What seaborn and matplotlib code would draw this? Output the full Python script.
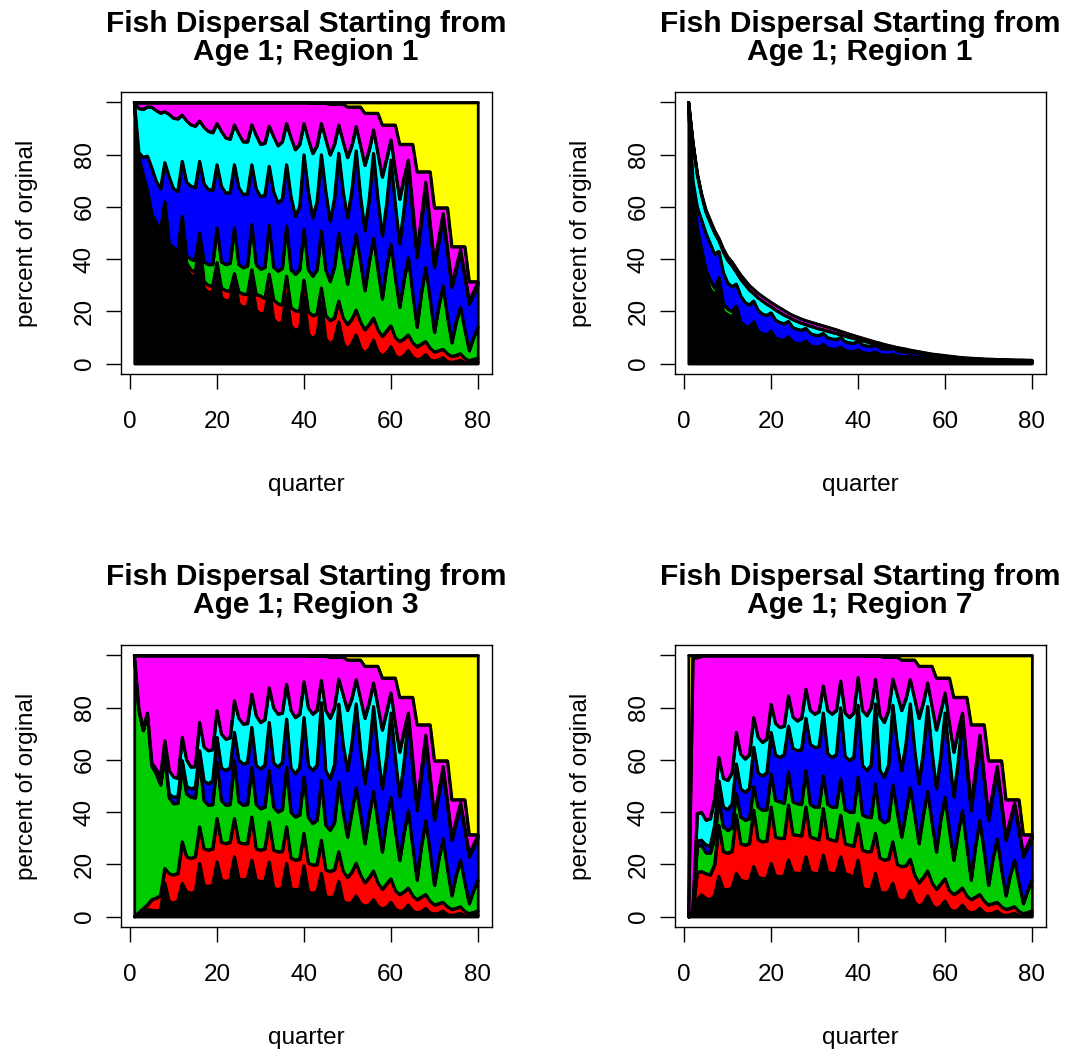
import numpy as np
import pandas as pd
import matplotlib
matplotlib.use("Agg")
import matplotlib.pyplot as plt
import seaborn as sns

# ==========================================
# Data: upper edge of each stacked band (percent of original)
# bands from bottom: black, red, green, blue, cyan, magenta, yellow
# ==========================================

quarters = list(range(1, 81))
ceiling = [100] * 80

# ---- Panel 1: Age 1; Region 1 ----
p1_black = [
    100, 79.0, 72.0, 66.0, 57.0, 53.0, 50.0, 60.0, 44.0, 42.0, 40.0, 54.0, 36.0, 34.0, 33.0, 42.0,
    29.0, 27.3, 27.5, 37.0, 25.5, 24.0, 24.5, 33.6, 23.0, 21.6, 22.0, 31.7, 20.5, 19.0, 19.5, 29.0,
    17.0, 15.2, 16.0, 26.7, 14.5, 12.7, 13.5, 25.4, 11.5, 9.5, 11.0, 23.5, 9.5, 7.6, 9.0, 16.0,
    8.0, 5.5, 7.5, 11.0, 6.0, 4.0, 5.5, 9.0, 4.5, 3.0, 4.0, 6.5, 3.0, 2.0, 3.0, 5.0,
    2.5, 1.5, 2.0, 3.5, 1.5, 1.0, 1.5, 2.3, 0.8, 0.5, 0.8, 1.3, 0.4, 0.2, 0.4, 0.7]
p1_red = [
    100, 79.1, 72.2, 66.2, 57.2, 53.3, 50.3, 60.5, 45.0, 43.0, 41.5, 56.0, 38.5, 36.0, 35.0, 47.0,
    31.5, 30.0, 29.8, 38.7, 29.0, 28.0, 27.9, 34.5, 27.5, 26.7, 26.5, 36.0, 26.5, 26.0, 25.0, 34.3,
    24.5, 23.0, 22.5, 33.5, 21.5, 20.3, 20.0, 32.0, 20.0, 18.4, 19.0, 29.0, 18.5, 16.5, 17.5, 24.0,
    17.5, 15.0, 17.0, 20.5, 16.0, 13.0, 15.0, 17.5, 13.0, 10.5, 12.5, 14.5, 10.0, 8.5, 9.5, 11.0,
    8.0, 6.5, 7.5, 8.5, 6.0, 4.5, 5.0, 5.5, 3.8, 2.8, 3.2, 3.8, 2.0, 1.2, 1.6, 2.2]
p1_green = [
    100, 79.3, 72.5, 66.5, 57.5, 54.0, 51.0, 62.0, 46.0, 44.5, 43.0, 56.5, 41.5, 40.0, 39.5, 50.0,
    39.0, 38.0, 38.0, 52.0, 39.0, 38.0, 38.5, 52.0, 38.0, 36.8, 37.5, 53.3, 38.0, 36.2, 37.0, 53.0,
    37.0, 35.5, 36.5, 52.7, 36.0, 34.3, 36.0, 51.4, 36.0, 33.5, 36.0, 50.8, 36.0, 31.5, 37.0, 50.0,
    40.0, 30.5, 40.0, 49.5, 39.0, 28.0, 39.0, 48.0, 36.0, 24.8, 37.0, 45.7, 33.0, 21.6, 32.0, 40.6,
    27.0, 14.0, 27.0, 36.8, 25.0, 12.0, 22.0, 29.8, 18.0, 8.0, 16.0, 21.6, 13.0, 5.0, 10.0, 14.0]
p1_blue = [
    100, 81.0, 79.0, 79.5, 75.0, 70.0, 67.0, 77.0, 71.5, 67.0, 66.0, 77.5, 69.5, 68.0, 67.5, 77.5,
    69.0, 66.7, 66.5, 76.2, 68.0, 65.4, 65.5, 76.2, 67.5, 64.8, 65.0, 76.2, 67.0, 64.0, 64.5, 75.6,
    66.0, 61.6, 63.0, 76.2, 64.0, 56.5, 60.0, 80.0, 66.0, 55.9, 62.0, 80.0, 66.0, 54.6, 63.0, 80.6,
    66.0, 56.0, 66.0, 81.5, 64.0, 51.0, 63.0, 80.5, 63.0, 49.0, 61.0, 78.0, 61.0, 46.0, 59.0, 76.0,
    57.0, 40.6, 54.0, 68.0, 52.0, 36.8, 46.5, 56.0, 42.5, 29.2, 36.0, 42.5, 33.0, 22.9, 26.5, 30.0]
p1_cyan = [
    100, 97.8, 97.4, 98.4, 98.2, 97.0, 96.0, 96.5, 95.5, 94.0, 93.8, 95.2, 93.0, 91.5, 91.0, 93.0,
    90.5, 89.0, 88.5, 92.0, 89.0, 86.5, 86.0, 91.5, 88.0, 85.0, 85.0, 91.5, 87.5, 84.0, 84.5, 91.0,
    87.0, 83.5, 85.0, 92.0, 86.5, 82.0, 84.0, 92.0, 86.0, 80.5, 83.5, 92.0, 86.0, 80.0, 84.0, 91.4,
    85.0, 79.0, 83.5, 90.8, 83.5, 76.0, 82.0, 89.5, 80.5, 71.5, 78.5, 85.7, 74.0, 63.0, 71.0, 78.0,
    60.0, 42.5, 56.0, 69.5, 54.0, 38.0, 48.0, 57.5, 44.0, 30.5, 37.0, 43.5, 34.0, 24.0, 27.5, 31.0]
p1_magenta = [
    100, 100, 100, 100, 100, 100, 100, 100, 100, 100, 100, 100, 100, 100, 100, 100,
    100, 100, 100, 100, 100, 100, 100, 100, 100, 100, 100, 100, 100, 100, 100, 100,
    100, 100, 100, 100, 100, 100, 100, 100, 100, 99.8, 99.8, 99.8, 99.8, 99.4, 99.4, 99.4,
    99.4, 98.3, 98.3, 98.3, 98.3, 95.9, 95.9, 95.9, 95.9, 91.4, 91.4, 91.4, 91.4, 84.0, 84.0, 84.0,
    84.0, 73.5, 73.5, 73.5, 73.5, 59.7, 59.7, 59.7, 59.7, 44.8, 44.8, 44.8, 44.8, 31.4, 31.4, 31.4]

# ---- Panel 2: Age 1; Region 1 (total declining) ----
p2_black = [
    100, 65.0, 50.0, 43.0, 33.0, 28.0, 25.5, 29.5, 19.3, 18.2, 17.5, 20.0, 13.6, 12.8, 12.4, 14.2,
    10.5, 9.8, 9.4, 10.7, 8.0, 7.5, 7.3, 8.6, 6.8, 6.3, 6.1, 7.2, 5.5, 5.1, 5.0, 6.0,
    4.6, 4.3, 4.2, 5.0, 3.8, 3.5, 3.4, 4.1, 3.1, 2.9, 2.8, 3.3, 2.6, 2.4, 2.3, 2.7,
    2.1, 1.9, 1.85, 2.2, 1.65, 1.55, 1.5, 1.75, 1.35, 1.25, 1.2, 1.4, 1.05, 0.95, 0.92, 1.05,
    0.82, 0.78, 0.75, 0.82, 0.65, 0.62, 0.6, 0.65, 0.54, 0.5, 0.5, 0.54, 0.44, 0.42, 0.42, 0.44]
p2_red = [
    100, 65.3, 50.4, 43.5, 33.6, 28.6, 26.2, 30.5, 20.0, 18.8, 18.0, 20.5, 14.2, 13.3, 12.8, 14.8,
    11.0, 10.2, 9.8, 11.2, 8.4, 7.9, 7.7, 9.0, 7.2, 6.7, 6.5, 7.6, 5.9, 5.5, 5.4, 6.4,
    5.0, 4.6, 4.5, 5.3, 4.1, 3.8, 3.7, 4.4, 3.4, 3.1, 3.0, 3.6, 2.8, 2.6, 2.5, 2.9,
    2.3, 2.1, 2.0, 2.4, 1.8, 1.7, 1.6, 1.9, 1.5, 1.35, 1.3, 1.5, 1.15, 1.05, 1.0, 1.15,
    0.9, 0.85, 0.82, 0.9, 0.72, 0.68, 0.66, 0.72, 0.6, 0.56, 0.55, 0.6, 0.5, 0.48, 0.47, 0.5]
p2_green = [
    100, 66.0, 52.0, 44.0, 36.0, 32.0, 29.0, 33.0, 23.0, 21.0, 20.0, 22.0, 16.0, 14.5, 14.0, 16.0,
    12.5, 11.5, 11.0, 12.5, 9.8, 9.2, 9.0, 10.3, 8.3, 7.8, 7.6, 8.7, 7.0, 6.5, 6.4, 7.4,
    6.0, 5.6, 5.5, 6.3, 5.1, 4.7, 4.5, 5.3, 4.3, 4.0, 3.9, 4.5, 3.6, 3.3, 3.2, 3.7,
    3.0, 2.8, 2.7, 3.1, 2.5, 2.3, 2.2, 2.5, 2.0, 1.85, 1.8, 2.0, 1.6, 1.5, 1.45, 1.6,
    1.3, 1.2, 1.2, 1.3, 1.05, 1.0, 1.0, 1.05, 0.9, 0.85, 0.85, 0.9, 0.75, 0.72, 0.72, 0.75]
p2_blue = [
    100, 70.0, 60.0, 55.0, 50.0, 46.0, 42.0, 43.0, 35.0, 31.0, 29.5, 30.5, 26.0, 23.5, 22.5, 24.0,
    20.5, 19.0, 18.5, 19.5, 16.8, 15.8, 15.3, 16.2, 13.8, 13.2, 12.8, 13.6, 11.6, 11.0, 10.8, 11.6,
    10.0, 9.5, 9.3, 10.0, 8.5, 8.0, 7.8, 8.6, 7.2, 6.8, 6.6, 7.2, 6.0, 5.6, 5.5, 6.0,
    5.0, 4.6, 4.5, 4.6, 4.1, 3.8, 3.7, 3.55, 3.2, 3.0, 2.85, 2.75, 2.5, 2.35, 2.2, 2.1,
    1.95, 1.85, 1.78, 1.72, 1.6, 1.55, 1.5, 1.48, 1.42, 1.36, 1.32, 1.3, 1.27, 1.25, 1.22, 1.2]
p2_cyan = [
    100, 84.5, 72.5, 64.5, 58.0, 54.0, 50.0, 47.0, 42.8, 39.6, 37.5, 35.0, 32.3, 30.3, 28.2, 26.8,
    25.2, 24.0, 22.8, 21.8, 20.6, 19.6, 18.6, 17.8, 16.9, 16.2, 15.5, 15.0, 14.4, 13.9, 13.4, 13.0,
    12.5, 12.0, 11.6, 11.1, 10.6, 10.1, 9.7, 9.3, 8.8, 8.4, 7.9, 7.5, 7.1, 6.7, 6.3, 6.0,
    5.6, 5.3, 5.0, 4.7, 4.4, 4.1, 3.9, 3.6, 3.4, 3.2, 3.0, 2.8, 2.6, 2.5, 2.3, 2.1,
    2.0, 1.95, 1.85, 1.75, 1.65, 1.6, 1.55, 1.5, 1.45, 1.4, 1.35, 1.32, 1.3, 1.28, 1.25, 1.25]
p2_magenta = [
    100, 85.0, 73.0, 65.0, 59.0, 55.0, 51.0, 48.0, 44.0, 41.0, 39.0, 36.5, 34.0, 32.0, 30.0, 28.5,
    27.0, 25.8, 24.6, 23.5, 22.4, 21.4, 20.4, 19.4, 18.5, 17.8, 17.1, 16.5, 16.0, 15.5, 15.0, 14.5,
    14.0, 13.5, 13.0, 12.4, 11.9, 11.3, 10.8, 10.3, 9.8, 9.3, 8.8, 8.3, 7.9, 7.4, 7.0, 6.6,
    6.2, 5.9, 5.6, 5.2, 4.9, 4.6, 4.3, 4.0, 3.7, 3.5, 3.3, 3.1, 2.9, 2.7, 2.5, 2.3,
    2.2, 2.1, 2.0, 1.9, 1.8, 1.75, 1.7, 1.6, 1.55, 1.5, 1.45, 1.4, 1.35, 1.35, 1.3, 1.3]

# ---- Panel 3: Age 1; Region 3 ----
p3_black = [
    0, 1.2, 2.5, 2.7, 2.5, 2.2, 2.5, 12.8, 5.8, 5.2, 6.0, 12.8, 9.5, 9.0, 9.5, 20.4,
    12.0, 11.6, 12.0, 21.0, 14.0, 13.5, 14.0, 23.0, 14.5, 14.1, 14.5, 21.7, 14.0, 13.5, 13.5, 21.0,
    11.0, 10.3, 11.0, 20.4, 10.8, 10.3, 10.5, 19.5, 9.5, 9.0, 9.5, 16.6, 7.8, 7.2, 7.8, 13.5,
    6.0, 5.0, 5.5, 8.0, 5.0, 4.0, 4.5, 6.5, 4.0, 3.0, 3.5, 5.5, 3.0, 2.0, 2.5, 4.5,
    2.2, 1.5, 1.8, 3.2, 1.5, 1.0, 1.3, 2.2, 0.8, 0.5, 0.8, 1.3, 0.4, 0.2, 0.4, 0.7]
p3_red = [
    0, 1.5, 3.0, 4.5, 6.5, 7.1, 8.0, 18.5, 16.5, 16.0, 16.6, 28.7, 23.0, 22.3, 23.0, 34.4,
    26.0, 25.5, 26.0, 37.6, 28.5, 28.0, 28.5, 37.6, 28.5, 28.0, 28.0, 38.2, 26.0, 25.5, 26.0, 36.3,
    25.5, 24.9, 25.0, 34.4, 22.5, 21.7, 22.0, 31.9, 20.5, 19.8, 20.0, 29.3, 18.0, 17.3, 18.0, 24.9,
    17.5, 15.0, 17.0, 20.5, 16.0, 13.0, 15.0, 17.5, 13.0, 10.5, 12.5, 14.5, 10.0, 8.5, 9.5, 11.0,
    8.0, 6.5, 7.5, 8.5, 6.0, 4.5, 5.0, 5.5, 3.8, 2.8, 3.2, 3.8, 2.0, 1.2, 1.6, 2.2]
p3_green = [
    100, 79.3, 71.3, 77.3, 57.7, 54.7, 50.5, 61.0, 45.5, 43.3, 43.5, 57.0, 47.0, 45.8, 45.5, 60.0,
    44.5, 42.7, 43.0, 59.2, 44.5, 42.7, 43.0, 59.8, 44.0, 42.7, 43.0, 57.3, 43.0, 41.4, 42.0, 56.0,
    42.0, 40.1, 41.0, 57.3, 40.0, 38.2, 39.0, 53.5, 38.0, 35.7, 37.0, 52.2, 35.0, 33.1, 36.0, 51.6,
    40.0, 30.5, 40.0, 49.5, 39.0, 28.0, 39.0, 48.0, 36.0, 24.8, 37.0, 45.7, 33.0, 21.6, 32.0, 40.6,
    27.0, 14.0, 27.0, 36.8, 25.0, 12.0, 22.0, 29.8, 18.0, 8.0, 16.0, 21.6, 13.0, 5.0, 10.0, 14.0]
p3_blue = [
    100, 79.5, 71.5, 77.5, 58.0, 55.0, 51.0, 62.0, 47.0, 45.8, 46.0, 59.8, 50.0, 49.0, 49.5, 63.6,
    52.0, 50.9, 52.0, 68.7, 57.0, 56.0, 57.0, 70.6, 60.0, 58.5, 59.0, 72.5, 58.0, 56.6, 58.0, 74.4,
    59.0, 57.3, 59.0, 75.7, 57.0, 54.7, 57.0, 76.3, 58.0, 56.0, 58.0, 82.0, 56.0, 52.8, 58.0, 81.4,
    66.0, 56.0, 66.0, 81.5, 64.0, 51.0, 63.0, 80.5, 63.0, 49.0, 61.0, 78.0, 61.0, 46.0, 59.0, 76.0,
    57.0, 40.6, 54.0, 68.0, 52.0, 36.8, 46.5, 56.0, 42.5, 29.2, 36.0, 42.5, 33.0, 22.9, 26.5, 30.0]
p3_cyan = [
    100, 80.0, 72.0, 78.0, 59.0, 56.5, 54.0, 67.4, 56.0, 53.5, 53.0, 68.7, 60.0, 57.3, 57.5, 74.4,
    65.0, 63.6, 64.0, 78.9, 70.0, 68.0, 68.5, 82.7, 76.0, 73.8, 74.0, 85.2, 77.0, 74.4, 75.5, 87.7,
    80.0, 77.6, 78.0, 89.0, 79.0, 76.3, 77.5, 90.0, 80.0, 77.6, 79.0, 90.5, 79.0, 76.0, 80.0, 91.0,
    85.0, 79.0, 83.5, 90.8, 83.5, 76.0, 82.0, 89.5, 80.5, 71.5, 78.5, 85.7, 74.0, 63.0, 71.0, 78.0,
    60.0, 42.5, 56.0, 69.5, 54.0, 38.0, 48.0, 57.5, 44.0, 30.5, 37.0, 43.5, 34.0, 24.0, 27.5, 31.0]
p3_magenta = [
    100, 100, 100, 100, 100, 100, 100, 100, 100, 100, 100, 100, 100, 100, 100, 100,
    100, 100, 100, 100, 100, 100, 100, 100, 100, 100, 100, 100, 100, 100, 100, 100,
    100, 100, 100, 100, 100, 100, 100, 100, 100, 99.8, 99.8, 99.8, 99.8, 99.4, 99.4, 99.4,
    99.4, 98.3, 98.3, 98.3, 98.3, 95.9, 95.9, 95.9, 95.9, 91.4, 91.4, 91.4, 91.4, 84.0, 84.0, 84.0,
    84.0, 73.5, 73.5, 73.5, 73.5, 59.7, 59.7, 59.7, 59.7, 44.8, 44.8, 44.8, 44.8, 31.4, 31.4, 31.4]

# ---- Panel 4: Age 1; Region 7 ----
p4_black = [
    0, 0.5, 6.5, 8.4, 7.0, 6.5, 8.0, 15.4, 10.5, 10.3, 11.0, 16.6, 14.0, 13.5, 13.5, 19.2,
    15.0, 14.7, 14.5, 20.4, 15.5, 15.4, 15.5, 21.7, 17.0, 16.6, 16.5, 23.0, 17.0, 16.6, 16.5, 23.6,
    17.0, 16.6, 16.5, 23.0, 16.5, 16.0, 15.0, 21.7, 11.0, 10.3, 10.5, 16.6, 9.5, 9.0, 9.5, 12.8,
    7.0, 6.0, 6.5, 10.0, 5.5, 4.0, 5.0, 8.0, 4.5, 3.0, 4.0, 6.0, 3.0, 2.0, 2.5, 4.5,
    2.2, 1.5, 1.8, 3.2, 1.5, 1.0, 1.3, 2.2, 0.8, 0.5, 0.8, 1.3, 0.4, 0.2, 0.4, 0.7]
p4_red = [
    0, 1.5, 17.0, 17.3, 16.5, 16.0, 20.0, 35.0, 25.0, 24.3, 25.0, 38.9, 28.0, 27.4, 28.0, 40.8,
    29.5, 28.7, 29.0, 42.0, 30.5, 30.0, 30.0, 42.7, 31.5, 31.2, 31.0, 42.0, 30.5, 30.0, 29.5, 41.4,
    30.0, 29.3, 29.0, 38.9, 28.0, 27.4, 27.0, 35.7, 25.5, 24.9, 25.0, 31.9, 22.5, 21.7, 22.0, 28.7,
    20.0, 19.2, 19.5, 22.0, 16.0, 13.0, 15.0, 17.5, 13.0, 10.5, 12.5, 14.5, 10.0, 8.5, 9.5, 11.0,
    8.0, 6.5, 7.5, 8.5, 6.0, 4.5, 5.0, 5.5, 3.8, 2.8, 3.2, 3.8, 2.0, 1.2, 1.6, 2.2]
p4_green = [
    0, 2.0, 27.0, 27.4, 24.5, 24.3, 30.0, 44.6, 34.4, 33.1, 34.0, 47.1, 38.2, 37.0, 37.5, 49.7,
    42.0, 40.8, 41.0, 54.7, 44.6, 44.0, 43.5, 55.4, 44.0, 43.3, 43.0, 56.0, 43.0, 42.0, 42.0, 54.0,
    43.0, 42.0, 42.0, 52.8, 41.0, 40.1, 40.0, 53.5, 39.0, 38.2, 38.0, 50.9, 37.5, 36.0, 37.0, 50.5,
    40.0, 30.5, 40.0, 49.5, 39.0, 28.0, 39.0, 48.0, 36.0, 24.8, 37.0, 45.7, 33.0, 21.6, 32.0, 40.6,
    27.0, 14.0, 27.0, 36.8, 25.0, 12.0, 22.0, 29.8, 18.0, 8.0, 16.0, 21.6, 13.0, 5.0, 10.0, 14.0]
p4_blue = [
    0, 2.2, 29.0, 29.3, 27.5, 27.0, 35.0, 52.0, 42.0, 41.0, 43.0, 58.5, 49.0, 47.7, 49.0, 64.9,
    55.0, 54.0, 55.0, 70.6, 62.0, 61.0, 62.0, 73.0, 64.5, 63.6, 64.0, 76.0, 66.0, 64.9, 65.0, 78.0,
    62.5, 61.0, 62.0, 80.0, 61.5, 59.8, 61.0, 81.0, 58.0, 56.0, 58.0, 81.5, 56.0, 53.5, 58.0, 81.0,
    66.0, 56.0, 66.0, 81.5, 64.0, 51.0, 63.0, 80.5, 63.0, 49.0, 61.0, 78.0, 61.0, 46.0, 59.0, 76.0,
    57.0, 40.6, 54.0, 68.0, 52.0, 36.8, 46.5, 56.0, 42.5, 29.2, 36.0, 42.5, 33.0, 22.9, 26.5, 30.0]
p4_cyan = [
    0, 2.5, 39.5, 40.0, 37.0, 37.5, 45.0, 61.0, 53.0, 52.2, 55.0, 70.6, 62.3, 60.4, 62.0, 76.3,
    68.7, 66.8, 68.0, 81.4, 74.0, 72.5, 73.0, 84.6, 76.5, 75.0, 76.0, 87.1, 79.0, 77.6, 78.5, 88.4,
    79.0, 77.6, 79.0, 90.3, 78.0, 76.3, 78.0, 91.6, 79.0, 77.0, 80.0, 90.9, 77.0, 74.4, 79.0, 91.0,
    85.0, 79.0, 83.5, 90.8, 83.5, 76.0, 82.0, 89.5, 80.5, 71.5, 78.5, 85.7, 74.0, 63.0, 71.0, 78.0,
    60.0, 42.5, 56.0, 69.5, 54.0, 38.0, 48.0, 57.5, 44.0, 30.5, 37.0, 43.5, 34.0, 24.0, 27.5, 31.0]
p4_magenta = [
    0, 99.2, 99.2, 99.8, 100, 100, 100, 100, 100, 100, 100, 100, 100, 100, 100, 100,
    100, 100, 100, 100, 100, 100, 100, 100, 100, 100, 100, 100, 100, 100, 100, 100,
    100, 100, 100, 100, 100, 100, 100, 100, 100, 99.8, 99.8, 99.8, 99.8, 99.4, 99.4, 99.4,
    99.4, 98.3, 98.3, 98.3, 98.3, 95.9, 95.9, 95.9, 95.9, 91.4, 91.4, 91.4, 91.4, 84.0, 84.0, 84.0,
    84.0, 73.5, 73.5, 73.5, 73.5, 59.7, 59.7, 59.7, 59.7, 44.8, 44.8, 44.8, 44.8, 31.4, 31.4, 31.4]

band_colors = ["#000000", "#FF0000", "#00CD00", "#0000FF", "#00FFFF", "#FF00FF", "#FFFF00"]

panels = [
    ("Age 1; Region 1", [p1_black, p1_red, p1_green, p1_blue, p1_cyan, p1_magenta, ceiling]),
    ("Age 1; Region 1", [p2_black, p2_red, p2_green, p2_blue, p2_cyan, p2_magenta]),
    ("Age 1; Region 3", [p3_black, p3_red, p3_green, p3_blue, p3_cyan, p3_magenta, ceiling]),
    ("Age 1; Region 7", [p4_black, p4_red, p4_green, p4_blue, p4_cyan, p4_magenta, ceiling]),
]

# ==========================================
# Figure
# ==========================================

sns.set_style("white")
plt.rcParams["font.family"] = ["Liberation Sans", "DejaVu Sans"]
plt.rcParams["text.color"] = "black"
plt.rcParams["axes.labelcolor"] = "black"

W, H = 1074, 1055
fig = plt.figure(figsize=(W / 100, H / 100), dpi=100)

box_w, box_h = 371, 282
boxes = [(120.5, 92), (674.6, 92), (120.5, 645), (674.6, 645)]  # left, top in pixels

for (left, top), (subtitle, edges) in zip(boxes, panels):
    ax = fig.add_axes([left / W, 1 - (top + box_h) / H, box_w / W, box_h / H])

    # stacked bands
    lower = [0.0] * len(quarters)
    for color, upper in zip(band_colors, edges):
        ax.fill_between(quarters, lower, upper, facecolor=color, edgecolor="black",
                        linewidth=2, joinstyle="round", zorder=2)
        lower = upper

    # black outline along every band edge
    long_df = pd.DataFrame({
        "quarter": quarters * len(edges),
        "pct": [v for e in edges for v in e],
        "edge": np.repeat(np.arange(len(edges)), len(quarters)),
    })
    sns.lineplot(data=long_df, x="quarter", y="pct", units="edge", estimator=None,
                 color="black", linewidth=2, ax=ax, legend=False, zorder=3)

    ax.set_xlim(-2.16, 83.16)
    ax.set_ylim(-4, 104)
    ax.set_xticks([0, 20, 40, 60, 80])
    ax.set_yticks([0, 20, 40, 60, 80, 100])
    ax.set_yticklabels(["0", "20", "40", "60", "80", ""])
    ax.tick_params(axis="both", which="major", direction="out", length=10.8, width=1.0,
                   labelsize=17.5, color="black", labelcolor="black",
                   bottom=True, left=True, top=False, right=False)
    ax.tick_params(axis="x", pad=16)
    ax.tick_params(axis="y", pad=7, labelrotation=90)
    for lbl in ax.get_yticklabels():
        lbl.set_va("center")
    for sp in ax.spines.values():
        sp.set_visible(True)
        sp.set_color("black")
        sp.set_linewidth(1.0)
    ax.set_xlabel("")
    ax.set_ylabel("")

    ax.text(0.5, -0.394, "quarter", transform=ax.transAxes,
            ha="center", va="center", fontsize=17.5, color="black")
    ax.text(-0.253, 0.5, "percent of orginal", transform=ax.transAxes,
            ha="center", va="center", rotation=90, fontsize=17.5, color="black")
    ax.text(0.5, 1 + 60 / box_h, "Fish Dispersal Starting from", transform=ax.transAxes,
            ha="center", va="baseline", fontsize=21.5, fontweight="bold", color="black")
    ax.text(0.5, 1 + 32 / box_h, subtitle, transform=ax.transAxes,
            ha="center", va="baseline", fontsize=21.5, fontweight="bold", color="black")

fig.savefig("out.png", dpi=100)
